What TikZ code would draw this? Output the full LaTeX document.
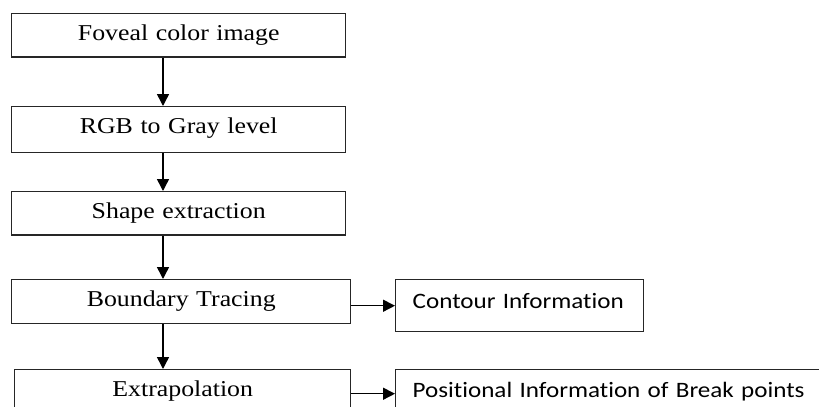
\documentclass[tikz,border=0pt]{standalone}
\usepackage{fontspec}
\usepackage{tikz}
\usetikzlibrary{arrows.meta, positioning, calc}
\newfontfamily\stagefont[FakeStretch=1.14]{Liberation Serif}
\newfontfamily\notefont[FakeStretch=1.14, Ligatures=NoCommon]{Carlito}
\definecolor{boxline}{rgb}{0.15, 0.15, 0.15}
\tikzset{
	stage/.style={draw=boxline, line width=1.1pt, anchor=north west, inner xsep=0pt, inner ysep=0pt, text width=250.5pt, align=center, text height=19.9pt, text depth=12.4pt, font=\stagefont\fontsize{17}{20}\selectfont},
	note/.style={draw=boxline, line width=1.1pt, anchor=north west, inner xsep=12.75pt, inner ysep=0pt, text width=160.5pt, align=left, text height=21.75pt, text depth=17.25pt, font=\notefont\fontsize{16.5}{20}\selectfont},
	flow/.style={line width=1.1pt, black, -{Triangle[length=9pt, width=9pt]}}
}
\begin{document}
\begin{tikzpicture}[x=0.75pt, y=-0.75pt]
					\useasboundingbox (0,0) rectangle (819,407);
					\clip (0,0) rectangle (819,407);
					\node[stage] (foveal) at (11,13) {Foveal color image};
					\node[stage, text depth=14.6pt] (rgb) at (11,106) {RGB to Gray level};
					\node[stage] (shape) at (11,191) {Shape extraction};
					\node[stage, text width=254.25pt, text depth=13.1pt] (boundary) at (11,279) {Boundary Tracing};
					\node[stage, text width=252pt, text depth=13.1pt] (extrap) at (14,369) {Extrapolation};
					\node[note] (contour) at (395,279) {Contour Information};
					\node[note, text width=400pt, text height=21pt, text depth=15pt] (breaks) at (395,369) {Positional Information of Break points};
					
					\coordinate (spine) at (163,0);
					\draw[flow] (foveal.south -| spine) -- (rgb.north -| spine);
					\draw[flow] (rgb.south -| spine) -- (shape.north -| spine);
					\draw[flow] (shape.south -| spine) -- (boundary.north -| spine);
					\draw[flow] (boundary.south -| spine) -- (extrap.north -| spine);
					\draw[flow] (contour.west -| boundary.east) -- (contour.west);
					\draw[flow] (breaks.west -| extrap.east) -- (breaks.west);
				\end{tikzpicture}
\end{document}
